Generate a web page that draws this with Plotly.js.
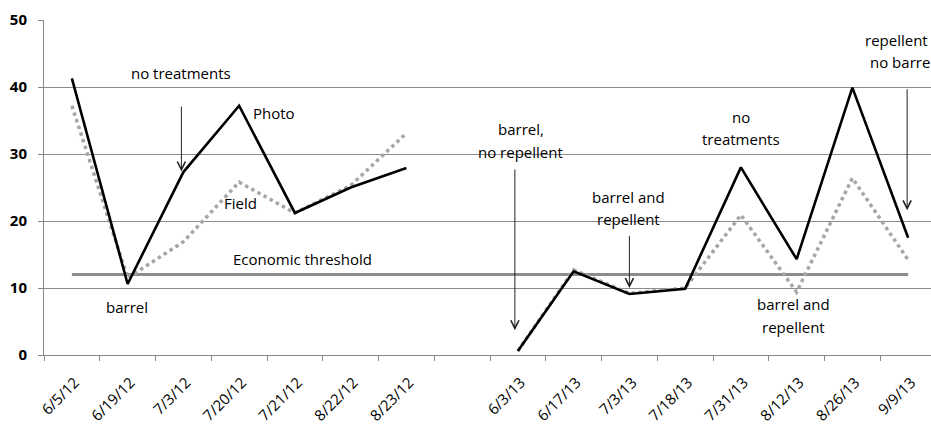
<!DOCTYPE html>
<html>
<head>
<meta charset="utf-8">
<script src="https://cdn.plot.ly/plotly-3.0.1.min.js"></script>
<style>html,body{margin:0;padding:0;background:#fff;}#chart{width:931px;height:426px;}</style>
</head>
<body>
<div id="chart"></div>
<script>
const categories = ["6/5/12","6/19/12","7/3/12","7/20/12","7/21/12","8/22/12","8/23/12"," ",
  "6/3/13","6/17/13","7/3/13","7/18/13","7/31/13","8/12/13","8/26/13","9/9/13"];
const photo = [41.3,10.6,27.3,37.2,21.2,25.0,27.9,null,0.6,12.5,9.1,9.9,28.0,14.3,39.9,17.5];
const field = [37.2,11.5,16.9,25.8,21.2,25.3,33.1,null,0.6,12.7,9.2,10.0,20.9,9.4,26.4,14.2];
const threshold = [12,12,12,12,12,12,12,null,12,12,12,12,12,12,12,12];

const FONT = "Open Sans, Noto Sans, sans-serif";
const traces = [
  {x: categories, y: threshold, type: "scatter", mode: "lines", connectgaps: true,
   line: {color: "#8c8c8c", width: 3}, hoverinfo: "skip"},
  {x: categories, y: field, type: "scatter", mode: "lines", connectgaps: false,
   line: {color: "#a6a6a6", width: 3.5, dash: "dot"}},
  {x: categories, y: photo, type: "scatter", mode: "lines", connectgaps: false,
   line: {color: "#000000", width: 2.6}}
];

function txt(x, y, text, opts) {
  return Object.assign({x: x, y: y, xref: "x", yref: "y", text: text, showarrow: false,
    font: {family: FONT, size: 15, color: "#000"}, align: "center"}, opts || {});
}
function arrow(x, yHead, yTail, opts) {
  return Object.assign({x: x, y: yHead, xref: "x", yref: "y", text: "", showarrow: true,
    ax: 0, ayref: "y", ay: yTail, arrowhead: 5, arrowsize: 1.6, arrowwidth: 1,
    arrowcolor: "#222", standoff: 0}, opts || {});
}

const annotations = [
  txt("7/3/12", 42.1, "no treatments", {xshift: -2}),
  arrow("7/3/12", 27.4, 37.3, {xshift: -2}),
  txt("7/20/12", 36.1, "Photo", {xanchor: "left", xshift: 12}),
  txt("7/20/12", 22.7, "Field", {xshift: 1}),
  txt("7/21/12", 14.3, "Economic threshold", {xshift: 8}),
  txt("6/19/12", 7.2, "barrel", {xshift: -1}),
  txt("6/3/13", 33.7, "barrel,", {xshift: 3}),
  txt("6/3/13", 30.3, "no repellent", {xshift: 3}),
  arrow("6/3/13", 3.7, 27.9, {xshift: -3}),
  txt("7/3/13", 23.6, "barrel and", {xshift: -1}),
  txt("7/3/13", 20.3, "repellent", {xshift: -1}),
  arrow("7/3/13", 10.0, 18.0, {xshift: 0}),
  txt("7/31/13", 35.5, "no", {xshift: 0}),
  txt("7/31/13", 32.2, "treatments", {xshift: 0}),
  txt("8/12/13", 7.6, "barrel and", {xshift: -3}),
  txt("8/12/13", 4.2, "repellent", {xshift: -3}),
  txt("9/9/13", 47.0, "repellent", {xshift: -12}),
  txt("9/9/13", 43.7, "no barrel", {xshift: -6}),
  arrow("9/9/13", 21.6, 39.9, {xshift: -1})
];

const layout = {
  width: 931, height: 426,
  margin: {l: 44, r: 0, t: 20, b: 71, pad: 0},
  paper_bgcolor: "#fff", plot_bgcolor: "#fff",
  showlegend: false,
  font: {family: FONT, color: "#000"},
  xaxis: {
    type: "category", categoryorder: "array", categoryarray: categories,
    range: [-0.5, 15.41], autorange: false,
    tickson: "boundaries", ticks: "outside", ticklen: 5, tickcolor: "#888", tickwidth: 1,
    showgrid: false, showline: true, linecolor: "#888", linewidth: 1,
    tickangle: -45, tickfont: {family: FONT, size: 15, color: "#000"},
    ticklabelstandoff: 12, ticklabelshift: 3,
    zeroline: false, fixedrange: true
  },
  yaxis: {
    range: [0, 50], autorange: false, dtick: 10,
    showgrid: true, gridcolor: "#8c8c8c", gridwidth: 1,
    showline: true, linecolor: "#888", linewidth: 1,
    ticks: "outside", ticklen: 5, tickcolor: "#888",
    tickfont: {family: FONT, size: 15, color: "#000", weight: "bold"},
    ticklabelstandoff: 8,
    zeroline: false, fixedrange: true
  },
  annotations: annotations
};

Plotly.newPlot("chart", traces, layout, {staticPlot: true, displayModeBar: false});
</script>
</body>
</html>
